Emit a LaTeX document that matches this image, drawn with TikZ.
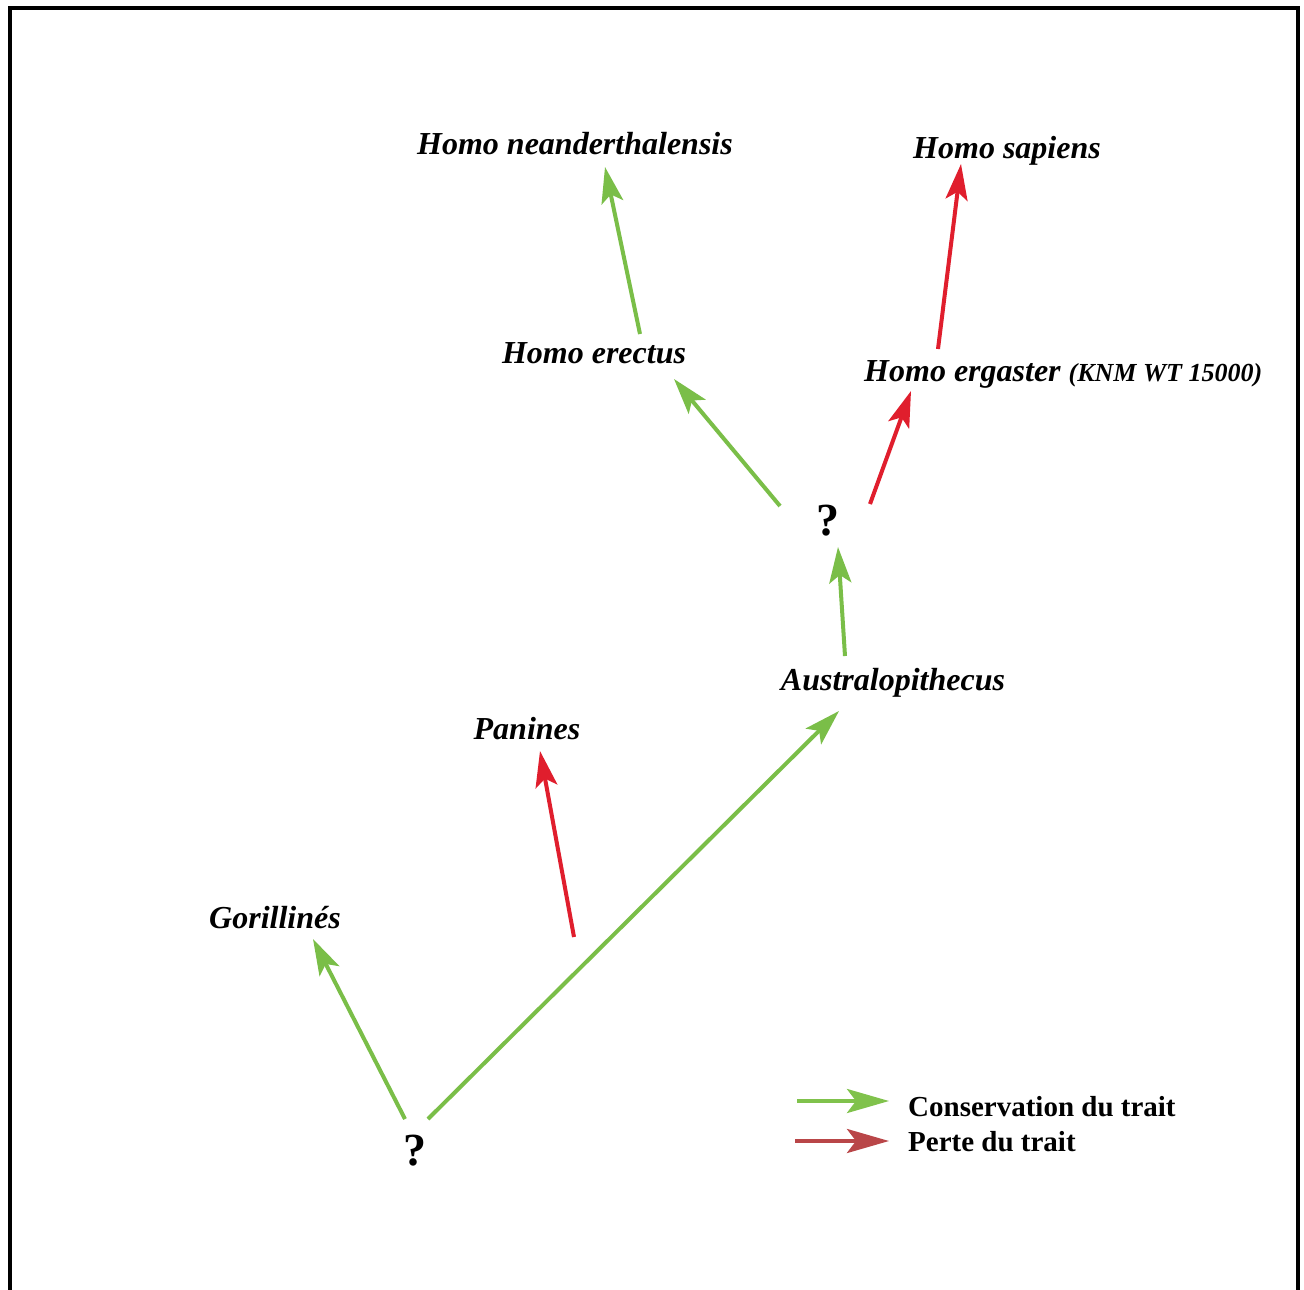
\documentclass[tikz,border=0pt]{standalone}
\usepackage{fontspec}
\setmainfont{Liberation Serif}
\usetikzlibrary{arrows.meta}
\definecolor{cgreen}{RGB}{122,190,72}
\definecolor{cred}{RGB}{224,30,45}
\definecolor{lred}{RGB}{185,70,72}
\definecolor{lgreen}{RGB}{128,194,76}
\tikzset{
  taxon/.style={font=\fontsize{32}{36}\selectfont\bfseries\itshape, anchor=base, inner sep=0pt},
  qmark/.style={font=\fontsize{46}{50}\selectfont\bfseries, anchor=base, inner sep=0pt},
  legtext/.style={font=\fontsize{29}{33}\selectfont\bfseries, anchor=base west, inner sep=0pt},
  arr/.style={line width=4pt, -{Stealth[length=36pt,width=22pt,inset=8pt]}},
  legarr/.style={line width=4pt, -{Stealth[length=42pt,width=24pt,inset=9pt]}},
  keep/.style={arr, draw=cgreen, fill=cgreen},
  lose/.style={arr, draw=cred, fill=cred},
}
\begin{document}
\begin{tikzpicture}[x=1pt,y=-1pt]
\useasboundingbox (0,0) rectangle (1304,1290);
\fill[white] (0,0) rectangle (1304,1290);
\draw[line width=4pt] (9.5,1292) -- (9.5,8.5) -- (1297.5,8.5) -- (1297.5,1292);

% labels
\node[taxon] (nea) at (575,154) {Homo neanderthalensis};
\node[taxon] (sap) at (1007,158) {Homo sapiens};
\node[taxon] (ere) at (594,363) {Homo erectus};
\node[taxon, anchor=base west] (erg) at (864,381) {Homo ergaster \fontsize{26}{30}\selectfont(KNM WT 15000)};
\node[qmark] (q1) at (828,535) {?};
\node[taxon] (aus) at (893,690) {Australopithecus};
\node[taxon] (pan) at (527,739) {Panines};
\node[taxon] (gor) at (275,928) {Gorillinés};
\node[qmark] (q0) at (415,1165) {?};

% arrow endpoints
\coordinate (q0a) at (405,1119);
\coordinate (q0b) at (428,1119);
\coordinate (gortip) at (313,939);
\coordinate (austip) at (839,711);
\coordinate (pantail) at (574,937);
\coordinate (pantip) at (540,751);
\coordinate (austail) at (845,656);
\coordinate (q1tip) at (838,547);
\coordinate (q1a) at (780,506);
\coordinate (eretip) at (674,379);
\coordinate (q1b) at (870,504);
\coordinate (ergtip) at (911,391);
\coordinate (eretail) at (640,334);
\coordinate (neatip) at (605,167);
\coordinate (ergtail) at (938,349);
\coordinate (saptip) at (961,164);

\draw[keep] (q0a) -- (gortip);
\draw[keep] (q0b) -- (austip);
\draw[lose] (pantail) -- (pantip);
\draw[keep] (austail) -- (q1tip);
\draw[keep] (q1a) -- (eretip);
\draw[lose] (q1b) -- (ergtip);
\draw[keep] (eretail) -- (neatip);
\draw[lose] (ergtail) -- (saptip);

% legend
\coordinate (lg1) at (797,1101);
\coordinate (lg2) at (889,1101);
\coordinate (lr1) at (795,1141);
\coordinate (lr2) at (889,1141);
\draw[legarr, draw=lgreen, fill=lgreen] (lg1) -- (lg2);
\draw[legarr, draw=lred, fill=lred] (lr1) -- (lr2);
\node[legtext] (l1) at (908,1116) {Conservation du trait};
\node[legtext] (l2) at (908,1151) {Perte du trait};
\end{tikzpicture}
\end{document}
